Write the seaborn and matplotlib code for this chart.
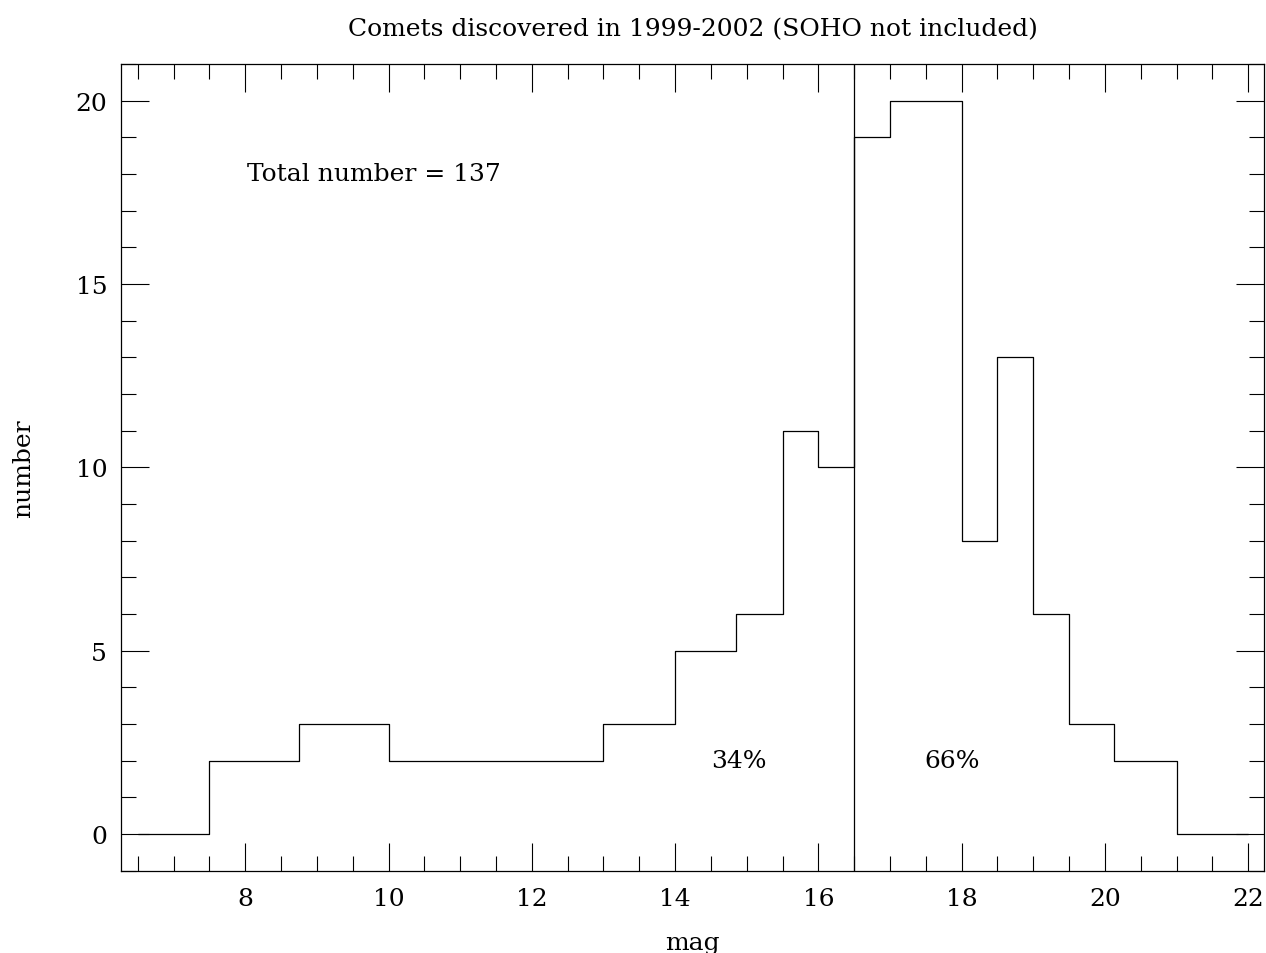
import matplotlib
matplotlib.use("Agg")
import matplotlib.pyplot as plt
from matplotlib.ticker import MultipleLocator
import seaborn as sns
import numpy as np
import pandas as pd

# Data
bin_edges = [6.5, 7.5, 8.75, 10.0, 13.0, 14.0, 14.85, 15.5, 16.0, 16.5,
             17.0, 18.0, 18.5, 19.0, 19.5, 20.13, 21.0, 22.0]
counts = [0, 2, 3, 2, 3, 5, 6, 11, 10, 19, 20, 8, 13, 6, 3, 2, 0]
split_mag = 16.5
title = "Comets discovered in 1999-2002 (SOHO not included)"
total_text = "Total number = 137"
left_pct = "34%"
right_pct = "66%"

edges = np.array(bin_edges)
centers = (edges[:-1] + edges[1:]) / 2
df = pd.DataFrame({"mag": centers, "n": counts})

sns.set_style("ticks")
plt.rcParams["font.family"] = ["DejaVu Serif"]
plt.rcParams["font.size"] = 18
for key in ["text.color", "axes.labelcolor", "xtick.color", "ytick.color",
            "axes.edgecolor"]:
    plt.rcParams[key] = "black"

fig = plt.figure(figsize=(12.66, 9.54), dpi=100)
ax = fig.add_axes([0.0956, 0.0863, 0.9984 - 0.0956, 0.9319 - 0.0863])

sns.histplot(data=df, x="mag", weights="n", bins=list(bin_edges), element="step",
             fill=False, color="black", linewidth=0.9, ax=ax)
ax.axvline(split_mag, color="black", linewidth=0.9)

ax.set_xlim(6.265, 22.22)
ax.set_ylim(-1, 21)
ax.xaxis.set_major_locator(MultipleLocator(2))
ax.xaxis.set_minor_locator(MultipleLocator(0.5))
ax.yaxis.set_major_locator(MultipleLocator(5))
ax.yaxis.set_minor_locator(MultipleLocator(1))
ax.tick_params(which="both", direction="in", top=True, right=True,
               width=0.8, color="black", labelcolor="black", labelsize=18)
ax.tick_params(which="major", length=20)
ax.tick_params(which="minor", length=10.5)
ax.tick_params(axis="x", which="major", pad=12)
ax.tick_params(axis="y", which="major", pad=10)
for s in ax.spines.values():
    s.set_visible(True)
    s.set_linewidth(0.9)
    s.set_color("black")

ax.set_xlabel("mag", fontsize=18, labelpad=15, color="black")
ax.set_ylabel("number", fontsize=18, labelpad=29, color="black")
ax.set_title(title, fontsize=18, pad=21, color="black")

ax.text(8.03, 18, total_text, fontsize=18, ha="left", va="center", color="black")
ax.text(14.89, 2, left_pct, fontsize=18, ha="center", va="center", color="black")
ax.text(17.87, 2, right_pct, fontsize=18, ha="center", va="center", color="black")

fig.savefig("out.png", dpi=100)
